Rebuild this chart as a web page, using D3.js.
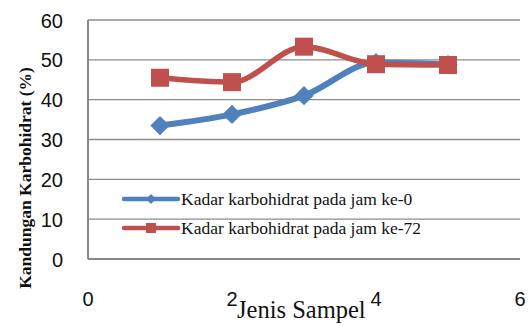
<!DOCTYPE html>
<html>
<head>
<meta charset="utf-8">
<script src="https://cdn.jsdelivr.net/npm/d3@7"></script>
<style>
  html, body { margin: 0; padding: 0; background: #fff; }
  svg { display: block; }
</style>
</head>
<body>
<svg id="chart" width="529" height="326"></svg>
<script>
// Sample numbers (x) and carbohydrate content (%) at hour 0 and hour 72
const samples = [1, 2, 3, 4, 5];
const jam0 = [33.5, 36.3, 41.0, 49.3, 48.8];
const jam72 = [45.5, 44.4, 53.3, 48.9, 48.7];
const seriesNames = ["Kadar karbohidrat pada jam ke-0", "Kadar karbohidrat pada jam ke-72"];
const yTicks = [0, 10, 20, 30, 40, 50, 60];
const xTicks = [0, 2, 4, 6];

const svg = d3.select("#chart");
const plot = { left: 88, right: 520, top: 20, bottom: 259 };
const serif = "'Liberation Serif', 'Times New Roman', serif";
const sans = "'Liberation Sans', Arial, sans-serif";

const x = d3.scaleLinear().domain([0, 6]).range([plot.left, plot.right]);
const y = d3.scaleLinear().domain([0, 60]).range([plot.bottom, plot.top]);

// horizontal gridlines
svg.append("g")
  .selectAll("line")
  .data(yTicks.filter(d => d > 0))
  .join("line")
  .attr("x1", plot.left).attr("x2", plot.right)
  .attr("y1", d => y(d)).attr("y2", d => y(d))
  .attr("stroke", "#8c8c8c").attr("stroke-width", 1.3);

// axis lines
svg.append("line")
  .attr("x1", plot.left).attr("x2", plot.left).attr("y1", plot.top).attr("y2", plot.bottom)
  .attr("stroke", "#878787").attr("stroke-width", 2);
svg.append("line")
  .attr("x1", plot.left).attr("x2", plot.right).attr("y1", plot.bottom).attr("y2", plot.bottom)
  .attr("stroke", "#878787").attr("stroke-width", 2);

// y tick labels
svg.append("g")
  .selectAll("text")
  .data(yTicks)
  .join("text")
  .attr("x", 63)
  .attr("y", d => y(d) + 7.5)
  .attr("text-anchor", "end")
  .attr("font-family", sans)
  .attr("font-size", 20)
  .attr("fill", "#111")
  .text(d => d);

// x tick labels
svg.append("g")
  .selectAll("text")
  .data(xTicks)
  .join("text")
  .attr("x", d => x(d))
  .attr("y", 306)
  .attr("text-anchor", "middle")
  .attr("font-family", sans)
  .attr("font-size", 20)
  .attr("fill", "#111")
  .text(d => d);

// axis titles
svg.append("text")
  .attr("x", 237).attr("y", 318)
  .attr("font-family", serif)
  .attr("font-size", 24.5)
  .attr("fill", "#111")
  .text("Jenis Sampel");

svg.append("text")
  .attr("transform", "translate(31,178) rotate(-90)")
  .attr("text-anchor", "middle")
  .attr("font-family", serif)
  .attr("font-weight", "bold")
  .attr("font-size", 17.5)
  .attr("fill", "#111")
  .text("Kandungan Karbohidrat (%)");

const line = d3.line()
  .x((d, i) => x(samples[i]))
  .y(d => y(d))
  .curve(d3.curveMonotoneX);

const blue = "#4f81bd", red = "#c0504d";

// hour 0 series: line with diamonds
svg.append("path")
  .datum(jam0)
  .attr("d", line)
  .attr("fill", "none")
  .attr("stroke", blue)
  .attr("stroke-width", 6)
  .attr("stroke-linejoin", "round");
svg.append("g")
  .selectAll("rect")
  .data(jam0)
  .join("rect")
  .attr("x", -6.8).attr("y", -6.8).attr("width", 13.6).attr("height", 13.6)
  .attr("transform", (d, i) => `translate(${x(samples[i])},${y(d)}) rotate(45)`)
  .attr("fill", blue);

// hour 72 series: line with squares
svg.append("path")
  .datum(jam72)
  .attr("d", line)
  .attr("fill", "none")
  .attr("stroke", red)
  .attr("stroke-width", 5.5)
  .attr("stroke-linejoin", "round");
svg.append("g")
  .selectAll("rect")
  .data(jam72)
  .join("rect")
  .attr("x", (d, i) => x(samples[i]) - 9)
  .attr("y", d => y(d) - 9)
  .attr("width", 18).attr("height", 18)
  .attr("fill", red);

// legend
const legend = svg.append("g");
const legendRows = [
  { name: seriesNames[0], color: blue, shape: "diamond", y: 199 },
  { name: seriesNames[1], color: red, shape: "square", y: 228 }
];
legendRows.forEach(r => {
  legend.append("line")
    .attr("x1", 124).attr("x2", 178)
    .attr("y1", r.y).attr("y2", r.y)
    .attr("stroke", r.color).attr("stroke-width", 4.5)
    .attr("stroke-linecap", "round");
  if (r.shape === "diamond") {
    legend.append("rect")
      .attr("x", -3.5).attr("y", -3.5).attr("width", 7).attr("height", 7)
      .attr("transform", `translate(151,${r.y}) rotate(45)`)
      .attr("fill", r.color);
  } else {
    legend.append("rect")
      .attr("x", 146).attr("y", r.y - 5).attr("width", 10).attr("height", 10)
      .attr("fill", r.color);
  }
  legend.append("text")
    .attr("x", 181).attr("y", r.y + 6)
    .attr("font-family", serif)
    .attr("font-size", 17.5)
    .attr("fill", "#111")
    .text(r.name);
});
</script>
</body>
</html>
